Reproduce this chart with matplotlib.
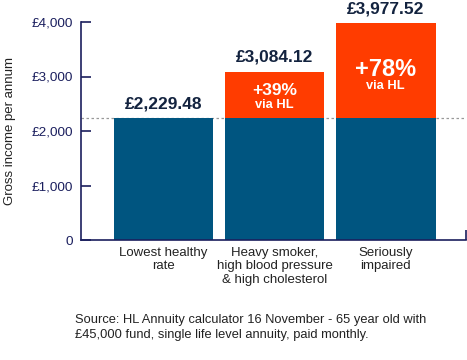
import matplotlib
matplotlib.use("Agg")
from matplotlib import pyplot as plt

plt.rcParams['font.family'] = ['Liberation Sans', 'DejaVu Sans']

categories = ["Lowest healthy\nrate", "Heavy smoker,\nhigh blood pressure\n& high cholesterol", "Seriously\nimpaired"]
base = 2229.48
totals = [2229.48, 3084.12, 3977.52]
value_labels = ["£2,229.48", "£3,084.12", "£3,977.52"]
uplift = [None, "+39%", "+78%"]
yticks = [0, 1000, 2000, 3000, 4000]
ytick_labels = ["0", "£1,000", "£2,000", "£3,000", "£4,000"]

blue = "#005580"
orange = "#ff3c00"
navy = "#1b1f5e"
dark = "#13233f"

fig = plt.figure(figsize=(4.67, 3.6), dpi=100)
ax = fig.add_axes([0.1734, 0.3333, 0.8246, 0.6056])

x = list(range(len(categories)))
ax.bar(x, [base] * 3, width=0.9, color=blue, zorder=2)
extra = [t - base for t in totals]
ax.bar(x, extra, bottom=base, width=0.9, color=orange, zorder=2)

ax.axhline(base, color="#999999", lw=0.9, ls=(0, (2, 2)), zorder=1)

for i, t in enumerate(totals):
    ax.annotate(value_labels[i], (i, t), xytext=(0, 10.5), textcoords="offset points",
                ha="center", va="center", fontsize=12.5, fontweight="bold", color=dark)

# uplift text inside the orange parts
sizes = {1: (12.5, -13.5, -24), 2: (17, -33, -45)}
for i, lab in enumerate(uplift):
    if lab is None:
        continue
    fs, dy1, dy2 = sizes[i]
    ax.annotate(lab, (i, totals[i]), xytext=(0, dy1), textcoords="offset points",
                ha="center", va="center", fontsize=fs, fontweight="bold", color="white")
    ax.annotate("via HL", (i, totals[i]), xytext=(0, dy2), textcoords="offset points",
                ha="center", va="center", fontsize=9.3, fontweight="bold", color="white")

ax.set_xlim(-0.743, 2.725)
ax.set_ylim(0, 4000)
ax.set_yticks(yticks)
ax.set_yticklabels(ytick_labels)
ax.set_xticks(x)
ax.set_xticklabels(categories, fontsize=9.5, color="#222222", linespacing=1.15)
ax.tick_params(axis="x", length=0, pad=5)
ax.tick_params(axis="y", direction="in", length=7, width=1.2, color=navy,
               labelsize=9.7, labelcolor=navy, pad=6)
ax.set_xticks([2.725], minor=True)
ax.tick_params(axis="x", which="minor", direction="in", length=7, width=1.2, color=navy)

for s in ["top", "right"]:
    ax.spines[s].set_visible(False)
for s in ["left", "bottom"]:
    ax.spines[s].set_color(navy)
    ax.spines[s].set_linewidth(1.2)

fig.text(0.021, 0.636, "Gross income per annum", rotation=90, ha="center", va="center",
         fontsize=9.5, color="#222222")

fig.text(0.160, 0.0905, "Source: HL Annuity calculator 16 November - 65 year old with\n£45,000 fund, single life level annuity, paid monthly.",
         ha="left", va="center", fontsize=9.3, color="#222222", linespacing=1.25)

fig.savefig("out.png", dpi=100, facecolor="white")
